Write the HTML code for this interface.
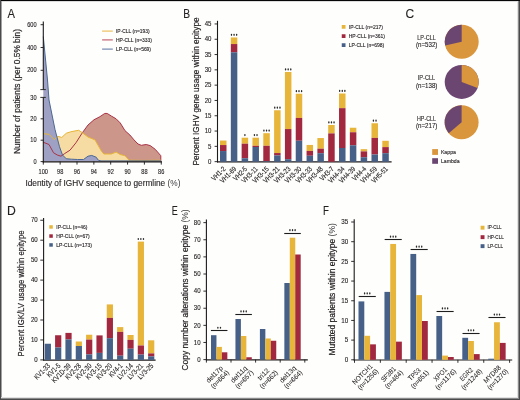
<!DOCTYPE html>
<html><head><meta charset="utf-8"><title>Figure</title>
<style>
html,body{margin:0;padding:0;background:#fff;}
body{width:520px;height:400px;overflow:hidden;}
svg{display:block;font-family:"Liberation Sans",sans-serif;will-change:transform;}
text{stroke:#231f20;stroke-width:0.12px;}
</style></head>
<body>
<svg width="520" height="400" viewBox="0 0 520 400">
<rect width="520" height="400" fill="#fefefd"/>
<g fill="#231f20">
<text x="7.6" y="18" font-size="12.2" textLength="7.47" lengthAdjust="spacingAndGlyphs">A</text>
<polygon points="43.3,142.25 49,144.5 53.5,152.75 57.25,155 61,156.2 64.75,153.5 70,150.2 76,142.7 82,133.25 88,125 94,119.75 99.9,116.7 104.75,113.45 107.2,113.45 111.25,116 116.1,118.8 120.2,122.9 125,130.7 129.9,135 134,139.9 138,144 141.3,145.3 146.2,144.5 150.2,145.6 155.1,149.2 160.8,155.7 160.8,161.1 160.8,161.6 43.3,161.6" fill="#cc968a"/>
<polygon points="43.3,133.7 49,134.3 54.25,139.7 57.7,136.25 61.75,137.45 66.25,133.25 70.75,131.75 78.7,130.25 82,132.5 88,137 95,139.9 98.25,145.6 101.5,151.3 103.9,154 111.25,154 116.1,152.1 120.2,154.5 125,155.7 129.1,160.2 145,160.4 161,160.2 161,161.6 43.3,161.6" fill="#f6dba2"/>
<polygon points="43.3,36.6 47.5,80 49,100 55,129.5 59.5,146.75 62.5,155 66.25,158.75 71.5,159.2 77.5,159.5 83.5,159.5 88,156.2 91.75,155.45 96.25,157.25 98.25,160.2 101,160.9 161,160.9 161,161.6 43.3,161.6" fill="#9ea1c3"/>
<polyline points="43.3,142.25 49,144.5 53.5,152.75 57.25,155 61,156.2 64.75,153.5 70,150.2 76,142.7 82,133.25 88,125 94,119.75 99.9,116.7 104.75,113.45 107.2,113.45 111.25,116 116.1,118.8 120.2,122.9 125,130.7 129.9,135 134,139.9 138,144 141.3,145.3 146.2,144.5 150.2,145.6 155.1,149.2 160.8,155.7 160.8,161.1" fill="none" stroke="#aa3346" stroke-width="1" stroke-linejoin="round"/>
<polyline points="43.3,133.7 49,134.3 54.25,139.7 57.7,136.25 61.75,137.45 66.25,133.25 70.75,131.75 78.7,130.25 82,132.5 88,137 95,139.9 98.25,145.6 101.5,151.3 103.9,154 111.25,154 116.1,152.1 120.2,154.5 125,155.7 129.1,160.2 145,160.4 161,160.2" fill="none" stroke="#e8b535" stroke-width="1" stroke-linejoin="round"/>
<polyline points="43.3,36.6 47.5,80 49,100 55,129.5 59.5,146.75 62.5,155 66.25,158.75 71.5,159.2 77.5,159.5 83.5,159.5 88,156.2 91.75,155.45 96.25,157.25 98.25,160.2 101,160.9 161,160.9" fill="none" stroke="#4b6894" stroke-width="1" stroke-linejoin="round"/>
<line x1="43.3" y1="21.5" x2="43.3" y2="89.6" stroke="#1c1a1b" stroke-width="1.1"/>
<line x1="43.3" y1="97.4" x2="43.3" y2="162.4" stroke="#1c1a1b" stroke-width="1.1"/>
<line x1="42.8" y1="161.85" x2="162" y2="161.85" stroke="#1c1a1b" stroke-width="1.2"/>
<line x1="40.6" y1="24.7" x2="43.3" y2="24.7" stroke="#1c1a1b" stroke-width="0.9"/>
<text x="36.6" y="26.8" font-size="6.3" text-anchor="end" textLength="9.39" lengthAdjust="spacingAndGlyphs">600</text>
<line x1="40.6" y1="47.5" x2="43.3" y2="47.5" stroke="#1c1a1b" stroke-width="0.9"/>
<text x="36.6" y="49.6" font-size="6.3" text-anchor="end" textLength="9.39" lengthAdjust="spacingAndGlyphs">400</text>
<line x1="40.6" y1="70.3" x2="43.3" y2="70.3" stroke="#1c1a1b" stroke-width="0.9"/>
<text x="36.6" y="72.4" font-size="6.3" text-anchor="end" textLength="9.39" lengthAdjust="spacingAndGlyphs">200</text>
<line x1="40.3" y1="89.6" x2="45.8" y2="89.6" stroke="#1c1a1b" stroke-width="0.9"/>
<line x1="40.3" y1="97.4" x2="45.8" y2="97.4" stroke="#1c1a1b" stroke-width="0.9"/>
<text x="36.6" y="99.5" font-size="6.3" text-anchor="end" textLength="6.26" lengthAdjust="spacingAndGlyphs">30</text>
<line x1="40.6" y1="118.8" x2="43.3" y2="118.8" stroke="#1c1a1b" stroke-width="0.9"/>
<text x="36.6" y="120.9" font-size="6.3" text-anchor="end" textLength="6.26" lengthAdjust="spacingAndGlyphs">20</text>
<line x1="40.6" y1="140.2" x2="43.3" y2="140.2" stroke="#1c1a1b" stroke-width="0.9"/>
<text x="36.6" y="142.3" font-size="6.3" text-anchor="end" textLength="6.26" lengthAdjust="spacingAndGlyphs">10</text>
<line x1="40.6" y1="161.6" x2="43.3" y2="161.6" stroke="#1c1a1b" stroke-width="0.9"/>
<text x="36.6" y="163.7" font-size="6.3" text-anchor="end" textLength="3.13" lengthAdjust="spacingAndGlyphs">0</text>
<line x1="43.3" y1="161.6" x2="43.3" y2="164.6" stroke="#1c1a1b" stroke-width="0.9"/>
<text x="43.3" y="174" font-size="6.3" text-anchor="middle" textLength="9.39" lengthAdjust="spacingAndGlyphs">100</text>
<line x1="60.15" y1="161.6" x2="60.15" y2="164.6" stroke="#1c1a1b" stroke-width="0.9"/>
<text x="60.15" y="174" font-size="6.3" text-anchor="middle" textLength="6.26" lengthAdjust="spacingAndGlyphs">98</text>
<line x1="77" y1="161.6" x2="77" y2="164.6" stroke="#1c1a1b" stroke-width="0.9"/>
<text x="77" y="174" font-size="6.3" text-anchor="middle" textLength="6.26" lengthAdjust="spacingAndGlyphs">96</text>
<line x1="93.85" y1="161.6" x2="93.85" y2="164.6" stroke="#1c1a1b" stroke-width="0.9"/>
<text x="93.85" y="174" font-size="6.3" text-anchor="middle" textLength="6.26" lengthAdjust="spacingAndGlyphs">94</text>
<line x1="110.7" y1="161.6" x2="110.7" y2="164.6" stroke="#1c1a1b" stroke-width="0.9"/>
<text x="110.7" y="174" font-size="6.3" text-anchor="middle" textLength="6.26" lengthAdjust="spacingAndGlyphs">92</text>
<line x1="127.55" y1="161.6" x2="127.55" y2="164.6" stroke="#1c1a1b" stroke-width="0.9"/>
<text x="127.55" y="174" font-size="6.3" text-anchor="middle" textLength="6.26" lengthAdjust="spacingAndGlyphs">90</text>
<line x1="144.4" y1="161.6" x2="144.4" y2="164.6" stroke="#1c1a1b" stroke-width="0.9"/>
<text x="144.4" y="174" font-size="6.3" text-anchor="middle" textLength="6.26" lengthAdjust="spacingAndGlyphs">88</text>
<line x1="161.25" y1="161.6" x2="161.25" y2="164.6" stroke="#1c1a1b" stroke-width="0.9"/>
<text x="161.25" y="174" font-size="6.3" text-anchor="middle" textLength="6.26" lengthAdjust="spacingAndGlyphs">86</text>
<text x="25.4" y="186" font-size="9" textLength="155" lengthAdjust="spacingAndGlyphs">Identity of IGHV sequence to germline <tspan fill="#3c3a3b" style="stroke:none">(%)</tspan></text>
<text x="20.3" y="154" font-size="8.8" transform="rotate(-90 20.3 154)" textLength="125" lengthAdjust="spacingAndGlyphs" style="stroke-width:0.2px">Number of patients (per 0.5% bin)</text>
<line x1="102.1" y1="31.1" x2="112.8" y2="31.1" stroke="#edc060" stroke-width="1.2"/>
<text x="116" y="32.7" font-size="4.8" textLength="33.7" lengthAdjust="spacingAndGlyphs">IP-CLL (n=193)</text>
<line x1="102.1" y1="39.9" x2="112.8" y2="39.9" stroke="#c46573" stroke-width="1.2"/>
<text x="116" y="41.5" font-size="4.8" textLength="36" lengthAdjust="spacingAndGlyphs">HP-CLL (n=333)</text>
<line x1="102.1" y1="49.1" x2="112.8" y2="49.1" stroke="#4f6c9a" stroke-width="0.95"/>
<text x="116" y="50.7" font-size="4.8" textLength="35" lengthAdjust="spacingAndGlyphs">LP-CLL (n=569)</text>
<text x="183.3" y="18" font-size="12.2" textLength="6.83" lengthAdjust="spacingAndGlyphs">B</text>
<line x1="217.5" y1="20.8" x2="217.5" y2="162.4" stroke="#1c1a1b" stroke-width="1.1"/>
<line x1="217" y1="161.9" x2="391.6" y2="161.9" stroke="#1c1a1b" stroke-width="1.2"/>
<line x1="214.6" y1="161.65" x2="217.5" y2="161.65" stroke="#1c1a1b" stroke-width="0.9"/>
<text x="211.4" y="163.85" font-size="6.6" text-anchor="end" textLength="3.39" lengthAdjust="spacingAndGlyphs">0</text>
<line x1="214.6" y1="146.35" x2="217.5" y2="146.35" stroke="#1c1a1b" stroke-width="0.9"/>
<text x="211.4" y="148.55" font-size="6.6" text-anchor="end" textLength="3.39" lengthAdjust="spacingAndGlyphs">5</text>
<line x1="214.6" y1="131.05" x2="217.5" y2="131.05" stroke="#1c1a1b" stroke-width="0.9"/>
<text x="211.4" y="133.25" font-size="6.6" text-anchor="end" textLength="6.77" lengthAdjust="spacingAndGlyphs">10</text>
<line x1="214.6" y1="115.75" x2="217.5" y2="115.75" stroke="#1c1a1b" stroke-width="0.9"/>
<text x="211.4" y="117.95" font-size="6.6" text-anchor="end" textLength="6.77" lengthAdjust="spacingAndGlyphs">15</text>
<line x1="214.6" y1="100.45" x2="217.5" y2="100.45" stroke="#1c1a1b" stroke-width="0.9"/>
<text x="211.4" y="102.65" font-size="6.6" text-anchor="end" textLength="6.77" lengthAdjust="spacingAndGlyphs">20</text>
<line x1="214.6" y1="85.15" x2="217.5" y2="85.15" stroke="#1c1a1b" stroke-width="0.9"/>
<text x="211.4" y="87.35" font-size="6.6" text-anchor="end" textLength="6.77" lengthAdjust="spacingAndGlyphs">25</text>
<line x1="214.6" y1="69.85" x2="217.5" y2="69.85" stroke="#1c1a1b" stroke-width="0.9"/>
<text x="211.4" y="72.05" font-size="6.6" text-anchor="end" textLength="6.77" lengthAdjust="spacingAndGlyphs">30</text>
<line x1="214.6" y1="54.55" x2="217.5" y2="54.55" stroke="#1c1a1b" stroke-width="0.9"/>
<text x="211.4" y="56.75" font-size="6.6" text-anchor="end" textLength="6.77" lengthAdjust="spacingAndGlyphs">35</text>
<line x1="214.6" y1="39.25" x2="217.5" y2="39.25" stroke="#1c1a1b" stroke-width="0.9"/>
<text x="211.4" y="41.45" font-size="6.6" text-anchor="end" textLength="6.77" lengthAdjust="spacingAndGlyphs">40</text>
<line x1="214.6" y1="23.95" x2="217.5" y2="23.95" stroke="#1c1a1b" stroke-width="0.9"/>
<text x="211.4" y="26.15" font-size="6.6" text-anchor="end" textLength="6.77" lengthAdjust="spacingAndGlyphs">45</text>
<text x="199.4" y="165.6" font-size="9.2" transform="rotate(-90 199.4 165.6)" textLength="148.2" lengthAdjust="spacingAndGlyphs" style="stroke-width:0.2px">Percent IGHV gene usage within epitype</text>
<rect x="220" y="140.55" width="6.5" height="4.5" fill="#e8b53b"/>
<rect x="220" y="145.05" width="6.5" height="6" fill="#a2283f"/>
<rect x="220" y="151.05" width="6.5" height="10.65" fill="#466087"/>
<text x="226.05" y="169.4" font-size="7.2" text-anchor="end" transform="rotate(-45 226.05 169.4)" textLength="16.66" lengthAdjust="spacingAndGlyphs">VH1-2</text>
<rect x="230.82" y="37.45" width="6.5" height="6.6" fill="#e8b53b"/>
<rect x="230.82" y="44.05" width="6.5" height="8.25" fill="#a2283f"/>
<rect x="230.82" y="52.3" width="6.5" height="109.4" fill="#466087"/>
<ellipse cx="231.47" cy="34.85" rx="0.72" ry="1.1" fill="#2a2a2a"/>
<ellipse cx="234.07" cy="34.85" rx="0.72" ry="1.1" fill="#2a2a2a"/>
<ellipse cx="236.67" cy="34.85" rx="0.72" ry="1.1" fill="#2a2a2a"/>
<text x="236.87" y="169.4" font-size="7.2" text-anchor="end" transform="rotate(-45 236.87 169.4)" textLength="20.02" lengthAdjust="spacingAndGlyphs">VH1-69</text>
<rect x="241.64" y="137.7" width="6.5" height="6" fill="#e8b53b"/>
<rect x="241.64" y="143.7" width="6.5" height="14.55" fill="#a2283f"/>
<rect x="241.64" y="158.25" width="6.5" height="3.45" fill="#466087"/>
<ellipse cx="244.89" cy="135.1" rx="0.72" ry="1.1" fill="#2a2a2a"/>
<text x="247.69" y="169.4" font-size="7.2" text-anchor="end" transform="rotate(-45 247.69 169.4)" textLength="16.66" lengthAdjust="spacingAndGlyphs">VH2-5</text>
<rect x="252.46" y="137.7" width="6.5" height="8.1" fill="#e8b53b"/>
<rect x="252.46" y="145.8" width="6.5" height="1.2" fill="#a2283f"/>
<rect x="252.46" y="147" width="6.5" height="14.7" fill="#466087"/>
<ellipse cx="254.41" cy="135.1" rx="0.72" ry="1.1" fill="#2a2a2a"/>
<ellipse cx="257.01" cy="135.1" rx="0.72" ry="1.1" fill="#2a2a2a"/>
<text x="258.51" y="169.4" font-size="7.2" text-anchor="end" transform="rotate(-45 258.51 169.4)" textLength="20.02" lengthAdjust="spacingAndGlyphs">VH3-11</text>
<rect x="263.28" y="133.2" width="6.5" height="12.6" fill="#e8b53b"/>
<rect x="263.28" y="145.8" width="6.5" height="15.4" fill="#a2283f"/>
<rect x="263.28" y="161.2" width="6.5" height="0.5" fill="#466087"/>
<ellipse cx="263.93" cy="130.6" rx="0.72" ry="1.1" fill="#2a2a2a"/>
<ellipse cx="266.53" cy="130.6" rx="0.72" ry="1.1" fill="#2a2a2a"/>
<ellipse cx="269.13" cy="130.6" rx="0.72" ry="1.1" fill="#2a2a2a"/>
<text x="269.33" y="169.4" font-size="7.2" text-anchor="end" transform="rotate(-45 269.33 169.4)" textLength="20.02" lengthAdjust="spacingAndGlyphs">VH3-15</text>
<rect x="274.1" y="110.25" width="6.5" height="42.8" fill="#e8b53b"/>
<rect x="274.1" y="153.05" width="6.5" height="2.4" fill="#a2283f"/>
<rect x="274.1" y="155.45" width="6.5" height="6.25" fill="#466087"/>
<ellipse cx="274.75" cy="107.65" rx="0.72" ry="1.1" fill="#2a2a2a"/>
<ellipse cx="277.35" cy="107.65" rx="0.72" ry="1.1" fill="#2a2a2a"/>
<ellipse cx="279.95" cy="107.65" rx="0.72" ry="1.1" fill="#2a2a2a"/>
<text x="280.15" y="169.4" font-size="7.2" text-anchor="end" transform="rotate(-45 280.15 169.4)" textLength="20.02" lengthAdjust="spacingAndGlyphs">VH3-21</text>
<rect x="284.92" y="72" width="6.5" height="57.05" fill="#e8b53b"/>
<rect x="284.92" y="129.05" width="6.5" height="30.15" fill="#a2283f"/>
<rect x="284.92" y="159.2" width="6.5" height="2.5" fill="#466087"/>
<ellipse cx="285.57" cy="69.4" rx="0.72" ry="1.1" fill="#2a2a2a"/>
<ellipse cx="288.17" cy="69.4" rx="0.72" ry="1.1" fill="#2a2a2a"/>
<ellipse cx="290.77" cy="69.4" rx="0.72" ry="1.1" fill="#2a2a2a"/>
<text x="290.97" y="169.4" font-size="7.2" text-anchor="end" transform="rotate(-45 290.97 169.4)" textLength="20.02" lengthAdjust="spacingAndGlyphs">VH3-23</text>
<rect x="295.74" y="93.75" width="6.5" height="24.2" fill="#e8b53b"/>
<rect x="295.74" y="117.95" width="6.5" height="22.8" fill="#a2283f"/>
<rect x="295.74" y="140.75" width="6.5" height="20.95" fill="#466087"/>
<ellipse cx="296.39" cy="91.15" rx="0.72" ry="1.1" fill="#2a2a2a"/>
<ellipse cx="298.99" cy="91.15" rx="0.72" ry="1.1" fill="#2a2a2a"/>
<ellipse cx="301.59" cy="91.15" rx="0.72" ry="1.1" fill="#2a2a2a"/>
<text x="301.79" y="169.4" font-size="7.2" text-anchor="end" transform="rotate(-45 301.79 169.4)" textLength="20.02" lengthAdjust="spacingAndGlyphs">VH3-30</text>
<rect x="306.56" y="144.95" width="6.5" height="6" fill="#e8b53b"/>
<rect x="306.56" y="150.95" width="6.5" height="4.8" fill="#a2283f"/>
<rect x="306.56" y="155.75" width="6.5" height="5.95" fill="#466087"/>
<text x="312.61" y="169.4" font-size="7.2" text-anchor="end" transform="rotate(-45 312.61 169.4)" textLength="20.02" lengthAdjust="spacingAndGlyphs">VH3-33</text>
<rect x="317.38" y="138.05" width="6.5" height="10.65" fill="#e8b53b"/>
<rect x="317.38" y="148.7" width="6.5" height="4.5" fill="#a2283f"/>
<rect x="317.38" y="153.2" width="6.5" height="8.5" fill="#466087"/>
<text x="323.43" y="169.4" font-size="7.2" text-anchor="end" transform="rotate(-45 323.43 169.4)" textLength="20.02" lengthAdjust="spacingAndGlyphs">VH3-48</text>
<rect x="328.2" y="125" width="6.5" height="8.4" fill="#e8b53b"/>
<rect x="328.2" y="133.4" width="6.5" height="28.3" fill="#a2283f"/>
<ellipse cx="328.85" cy="122.4" rx="0.72" ry="1.1" fill="#2a2a2a"/>
<ellipse cx="331.45" cy="122.4" rx="0.72" ry="1.1" fill="#2a2a2a"/>
<ellipse cx="334.05" cy="122.4" rx="0.72" ry="1.1" fill="#2a2a2a"/>
<text x="334.25" y="169.4" font-size="7.2" text-anchor="end" transform="rotate(-45 334.25 169.4)" textLength="16.66" lengthAdjust="spacingAndGlyphs">VH3-7</text>
<rect x="339.02" y="93.5" width="6.5" height="14.65" fill="#e8b53b"/>
<rect x="339.02" y="108.15" width="6.5" height="39.85" fill="#a2283f"/>
<rect x="339.02" y="148" width="6.5" height="13.7" fill="#466087"/>
<ellipse cx="339.67" cy="90.9" rx="0.72" ry="1.1" fill="#2a2a2a"/>
<ellipse cx="342.27" cy="90.9" rx="0.72" ry="1.1" fill="#2a2a2a"/>
<ellipse cx="344.87" cy="90.9" rx="0.72" ry="1.1" fill="#2a2a2a"/>
<text x="345.07" y="169.4" font-size="7.2" text-anchor="end" transform="rotate(-45 345.07 169.4)" textLength="20.02" lengthAdjust="spacingAndGlyphs">VH4-34</text>
<rect x="349.84" y="127.75" width="6.5" height="4.5" fill="#e8b53b"/>
<rect x="349.84" y="132.25" width="6.5" height="13.05" fill="#a2283f"/>
<rect x="349.84" y="145.3" width="6.5" height="16.4" fill="#466087"/>
<text x="355.89" y="169.4" font-size="7.2" text-anchor="end" transform="rotate(-45 355.89 169.4)" textLength="20.02" lengthAdjust="spacingAndGlyphs">VH4-39</text>
<rect x="360.66" y="149.15" width="6.5" height="2.25" fill="#e8b53b"/>
<rect x="360.66" y="151.4" width="6.5" height="5.85" fill="#a2283f"/>
<rect x="360.66" y="157.25" width="6.5" height="4.45" fill="#466087"/>
<text x="366.71" y="169.4" font-size="7.2" text-anchor="end" transform="rotate(-45 366.71 169.4)" textLength="16.66" lengthAdjust="spacingAndGlyphs">VH4-4</text>
<rect x="371.48" y="123.25" width="6.5" height="14.65" fill="#e8b53b"/>
<rect x="371.48" y="137.9" width="6.5" height="16.6" fill="#a2283f"/>
<rect x="371.48" y="154.5" width="6.5" height="7.2" fill="#466087"/>
<ellipse cx="373.43" cy="120.65" rx="0.72" ry="1.1" fill="#2a2a2a"/>
<ellipse cx="376.03" cy="120.65" rx="0.72" ry="1.1" fill="#2a2a2a"/>
<text x="377.53" y="169.4" font-size="7.2" text-anchor="end" transform="rotate(-45 377.53 169.4)" textLength="20.02" lengthAdjust="spacingAndGlyphs">VH4-59</text>
<rect x="382.3" y="140.8" width="6.5" height="6.3" fill="#e8b53b"/>
<rect x="382.3" y="147.1" width="6.5" height="6.1" fill="#a2283f"/>
<rect x="382.3" y="153.2" width="6.5" height="8.5" fill="#466087"/>
<text x="388.35" y="169.4" font-size="7.2" text-anchor="end" transform="rotate(-45 388.35 169.4)" textLength="20.02" lengthAdjust="spacingAndGlyphs">VH5-51</text>
<rect x="341.75" y="25" width="3.75" height="3.75" fill="#e8b53b"/>
<text x="348.75" y="28.6" font-size="5" textLength="34.2" lengthAdjust="spacingAndGlyphs">IP-CLL (n=217)</text>
<rect x="341.75" y="34.25" width="3.75" height="3.75" fill="#a2283f"/>
<text x="348.75" y="37.85" font-size="5" textLength="36.2" lengthAdjust="spacingAndGlyphs">HP-CLL (n=361)</text>
<rect x="341.75" y="43.25" width="3.75" height="3.75" fill="#466087"/>
<text x="348.75" y="46.85" font-size="5" textLength="35.4" lengthAdjust="spacingAndGlyphs">LP-CLL (n=698)</text>
<text x="405.6" y="18" font-size="12">C</text>
<circle cx="461.7" cy="41.8" r="17" fill="#d9963c"/>
<path d="M461.7,41.8 L445.14,45.62 A17,17 0 0 1 461.7,24.8 Z" fill="#6b4671"/>
<circle cx="461.7" cy="81.9" r="17" fill="#6b4671"/>
<path d="M461.7,81.9 L461.7,64.9 A17,17 0 0 1 477.59,87.94 Z" fill="#d9963c"/>
<circle cx="461.6" cy="122.2" r="17" fill="#d9963c"/>
<path d="M461.6,122.2 L448.71,133.29 A17,17 0 0 1 461.6,105.2 Z" fill="#6b4671"/>
<text x="426.5" y="40.2" font-size="7" text-anchor="middle" textLength="18.5" lengthAdjust="spacingAndGlyphs">LP-CLL</text>
<text x="426.7" y="47.4" font-size="7" text-anchor="middle" textLength="21.5" lengthAdjust="spacingAndGlyphs">(n=532)</text>
<text x="426.5" y="80.3" font-size="7" text-anchor="middle" textLength="17.5" lengthAdjust="spacingAndGlyphs">IP-CLL</text>
<text x="426.7" y="87.5" font-size="7" text-anchor="middle" textLength="21.5" lengthAdjust="spacingAndGlyphs">(n=138)</text>
<text x="426.5" y="120.6" font-size="7" text-anchor="middle" textLength="19" lengthAdjust="spacingAndGlyphs">HP-CLL</text>
<text x="426.7" y="127.8" font-size="7" text-anchor="middle" textLength="21.5" lengthAdjust="spacingAndGlyphs">(n=217)</text>
<rect x="432.2" y="149.1" width="5.8" height="5.8" fill="#d9963c"/>
<rect x="432.2" y="158.2" width="5.8" height="5.6" fill="#6b4671"/>
<text x="440.9" y="154" font-size="5.6" textLength="15.1" lengthAdjust="spacingAndGlyphs">Kappa</text>
<text x="440.9" y="163.1" font-size="5.6" textLength="18.7" lengthAdjust="spacingAndGlyphs">Lambda</text>
<text x="7" y="215" font-size="12.2">D</text>
<line x1="43.6" y1="218" x2="43.6" y2="360.6" stroke="#1c1a1b" stroke-width="1.1"/>
<line x1="43.1" y1="360.1" x2="155.6" y2="360.1" stroke="#1c1a1b" stroke-width="1.2"/>
<line x1="40.3" y1="359.9" x2="43.6" y2="359.9" stroke="#1c1a1b" stroke-width="0.9"/>
<text x="37.7" y="362.1" font-size="6.6" text-anchor="end" textLength="3.39" lengthAdjust="spacingAndGlyphs">0</text>
<line x1="40.3" y1="339.95" x2="43.6" y2="339.95" stroke="#1c1a1b" stroke-width="0.9"/>
<text x="37.7" y="342.15" font-size="6.6" text-anchor="end" textLength="6.77" lengthAdjust="spacingAndGlyphs">10</text>
<line x1="40.3" y1="320" x2="43.6" y2="320" stroke="#1c1a1b" stroke-width="0.9"/>
<text x="37.7" y="322.2" font-size="6.6" text-anchor="end" textLength="6.77" lengthAdjust="spacingAndGlyphs">20</text>
<line x1="40.3" y1="300.05" x2="43.6" y2="300.05" stroke="#1c1a1b" stroke-width="0.9"/>
<text x="37.7" y="302.25" font-size="6.6" text-anchor="end" textLength="6.77" lengthAdjust="spacingAndGlyphs">30</text>
<line x1="40.3" y1="280.1" x2="43.6" y2="280.1" stroke="#1c1a1b" stroke-width="0.9"/>
<text x="37.7" y="282.3" font-size="6.6" text-anchor="end" textLength="6.77" lengthAdjust="spacingAndGlyphs">40</text>
<line x1="40.3" y1="260.15" x2="43.6" y2="260.15" stroke="#1c1a1b" stroke-width="0.9"/>
<text x="37.7" y="262.35" font-size="6.6" text-anchor="end" textLength="6.77" lengthAdjust="spacingAndGlyphs">50</text>
<line x1="40.3" y1="240.2" x2="43.6" y2="240.2" stroke="#1c1a1b" stroke-width="0.9"/>
<text x="37.7" y="242.4" font-size="6.6" text-anchor="end" textLength="6.77" lengthAdjust="spacingAndGlyphs">60</text>
<line x1="40.3" y1="220.25" x2="43.6" y2="220.25" stroke="#1c1a1b" stroke-width="0.9"/>
<text x="37.7" y="222.45" font-size="6.6" text-anchor="end" textLength="6.77" lengthAdjust="spacingAndGlyphs">70</text>
<text x="24.4" y="356.4" font-size="8.5" transform="rotate(-90 24.4 356.4)" textLength="126" lengthAdjust="spacingAndGlyphs" style="stroke-width:0.2px">Percent IGK/LV usage within epitype</text>
<rect x="44.75" y="343.75" width="6.2" height="16.15" fill="#466087"/>
<text x="50.65" y="366.3" font-size="7.3" text-anchor="end" transform="rotate(-45 50.65 366.3)" textLength="19.44" lengthAdjust="spacingAndGlyphs">KV1-33</text>
<rect x="55.09" y="335.25" width="6.2" height="12.25" fill="#a2283f"/>
<rect x="55.09" y="347.5" width="6.2" height="12.4" fill="#466087"/>
<text x="60.98" y="366.3" font-size="7.3" text-anchor="end" transform="rotate(-45 60.98 366.3)" textLength="16.06" lengthAdjust="spacingAndGlyphs">KV1-5</text>
<rect x="65.42" y="332.9" width="6.2" height="6.5" fill="#a2283f"/>
<rect x="65.42" y="339.4" width="6.2" height="20.5" fill="#466087"/>
<text x="71.32" y="366.3" font-size="7.3" text-anchor="end" transform="rotate(-45 71.32 366.3)" textLength="23.84" lengthAdjust="spacingAndGlyphs">KV1D-39</text>
<rect x="75.75" y="341.5" width="6.2" height="4.5" fill="#e8b53b"/>
<rect x="75.75" y="346" width="6.2" height="13.9" fill="#466087"/>
<text x="81.65" y="366.3" font-size="7.3" text-anchor="end" transform="rotate(-45 81.65 366.3)" textLength="19.44" lengthAdjust="spacingAndGlyphs">KV2-28</text>
<rect x="86.09" y="334.75" width="6.2" height="4.85" fill="#e8b53b"/>
<rect x="86.09" y="339.6" width="6.2" height="14.8" fill="#a2283f"/>
<rect x="86.09" y="354.4" width="6.2" height="5.5" fill="#466087"/>
<text x="91.99" y="366.3" font-size="7.3" text-anchor="end" transform="rotate(-45 91.99 366.3)" textLength="19.44" lengthAdjust="spacingAndGlyphs">KV2-30</text>
<rect x="96.43" y="335.4" width="6.2" height="17.5" fill="#a2283f"/>
<rect x="96.43" y="352.9" width="6.2" height="7" fill="#466087"/>
<text x="102.33" y="366.3" font-size="7.3" text-anchor="end" transform="rotate(-45 102.33 366.3)" textLength="19.44" lengthAdjust="spacingAndGlyphs">KV3-15</text>
<rect x="106.76" y="304.4" width="6.2" height="13.5" fill="#e8b53b"/>
<rect x="106.76" y="317.9" width="6.2" height="20.3" fill="#a2283f"/>
<rect x="106.76" y="338.2" width="6.2" height="21.7" fill="#466087"/>
<text x="112.66" y="366.3" font-size="7.3" text-anchor="end" transform="rotate(-45 112.66 366.3)" textLength="19.44" lengthAdjust="spacingAndGlyphs">KV3-20</text>
<rect x="117.09" y="327.1" width="6.2" height="4.8" fill="#e8b53b"/>
<rect x="117.09" y="331.9" width="6.2" height="23.8" fill="#a2283f"/>
<rect x="117.09" y="355.7" width="6.2" height="4.2" fill="#466087"/>
<text x="122.99" y="366.3" font-size="7.3" text-anchor="end" transform="rotate(-45 122.99 366.3)" textLength="16.06" lengthAdjust="spacingAndGlyphs">KV4-1</text>
<rect x="127.43" y="335" width="6.2" height="4.9" fill="#e8b53b"/>
<rect x="127.43" y="339.9" width="6.2" height="8.8" fill="#a2283f"/>
<rect x="127.43" y="348.7" width="6.2" height="11.2" fill="#466087"/>
<text x="133.33" y="366.3" font-size="7.3" text-anchor="end" transform="rotate(-45 133.33 366.3)" textLength="18.98" lengthAdjust="spacingAndGlyphs">LV2-14</text>
<rect x="137.77" y="241.6" width="6.2" height="103.9" fill="#e8b53b"/>
<rect x="137.77" y="345.5" width="6.2" height="9.1" fill="#a2283f"/>
<rect x="137.77" y="354.6" width="6.2" height="5.3" fill="#466087"/>
<ellipse cx="138.27" cy="239" rx="0.72" ry="1.1" fill="#2a2a2a"/>
<ellipse cx="140.87" cy="239" rx="0.72" ry="1.1" fill="#2a2a2a"/>
<ellipse cx="143.47" cy="239" rx="0.72" ry="1.1" fill="#2a2a2a"/>
<text x="143.67" y="366.3" font-size="7.3" text-anchor="end" transform="rotate(-45 143.67 366.3)" textLength="18.98" lengthAdjust="spacingAndGlyphs">LV3-21</text>
<rect x="148.1" y="340.3" width="6.2" height="13.1" fill="#e8b53b"/>
<rect x="148.1" y="353.4" width="6.2" height="3" fill="#a2283f"/>
<rect x="148.1" y="356.4" width="6.2" height="3.5" fill="#466087"/>
<text x="154" y="366.3" font-size="7.3" text-anchor="end" transform="rotate(-45 154 366.3)" textLength="18.98" lengthAdjust="spacingAndGlyphs">LV3-25</text>
<rect x="49.3" y="225.2" width="3.5" height="3.5" fill="#e8b53b"/>
<text x="56.3" y="228.6" font-size="4.8" textLength="31" lengthAdjust="spacingAndGlyphs">IP-CLL (n=46)</text>
<rect x="49.3" y="234.3" width="3.5" height="3.5" fill="#a2283f"/>
<text x="56.3" y="237.7" font-size="4.8" textLength="33.4" lengthAdjust="spacingAndGlyphs">HP-CLL (n=67)</text>
<rect x="49.3" y="243.2" width="3.5" height="3.5" fill="#466087"/>
<text x="56.3" y="246.6" font-size="4.8" textLength="35.7" lengthAdjust="spacingAndGlyphs">LP-CLL (n=173)</text>
<text x="171.7" y="215" font-size="12.2" textLength="6" lengthAdjust="spacingAndGlyphs">E</text>
<line x1="206.4" y1="219.5" x2="206.4" y2="360.3" stroke="#1c1a1b" stroke-width="1.1"/>
<line x1="205.9" y1="359.8" x2="307.8" y2="359.8" stroke="#1c1a1b" stroke-width="1.2"/>
<line x1="203.4" y1="359.6" x2="206.4" y2="359.6" stroke="#1c1a1b" stroke-width="0.9"/>
<text x="200.6" y="361.8" font-size="6.6" text-anchor="end" textLength="3.39" lengthAdjust="spacingAndGlyphs">0</text>
<line x1="203.4" y1="342.48" x2="206.4" y2="342.48" stroke="#1c1a1b" stroke-width="0.9"/>
<text x="200.6" y="344.68" font-size="6.6" text-anchor="end" textLength="6.77" lengthAdjust="spacingAndGlyphs">10</text>
<line x1="203.4" y1="325.36" x2="206.4" y2="325.36" stroke="#1c1a1b" stroke-width="0.9"/>
<text x="200.6" y="327.56" font-size="6.6" text-anchor="end" textLength="6.77" lengthAdjust="spacingAndGlyphs">20</text>
<line x1="203.4" y1="308.24" x2="206.4" y2="308.24" stroke="#1c1a1b" stroke-width="0.9"/>
<text x="200.6" y="310.44" font-size="6.6" text-anchor="end" textLength="6.77" lengthAdjust="spacingAndGlyphs">30</text>
<line x1="203.4" y1="291.12" x2="206.4" y2="291.12" stroke="#1c1a1b" stroke-width="0.9"/>
<text x="200.6" y="293.32" font-size="6.6" text-anchor="end" textLength="6.77" lengthAdjust="spacingAndGlyphs">40</text>
<line x1="203.4" y1="274" x2="206.4" y2="274" stroke="#1c1a1b" stroke-width="0.9"/>
<text x="200.6" y="276.2" font-size="6.6" text-anchor="end" textLength="6.77" lengthAdjust="spacingAndGlyphs">50</text>
<line x1="203.4" y1="256.88" x2="206.4" y2="256.88" stroke="#1c1a1b" stroke-width="0.9"/>
<text x="200.6" y="259.08" font-size="6.6" text-anchor="end" textLength="6.77" lengthAdjust="spacingAndGlyphs">60</text>
<line x1="203.4" y1="239.76" x2="206.4" y2="239.76" stroke="#1c1a1b" stroke-width="0.9"/>
<text x="200.6" y="241.96" font-size="6.6" text-anchor="end" textLength="6.77" lengthAdjust="spacingAndGlyphs">70</text>
<line x1="203.4" y1="222.64" x2="206.4" y2="222.64" stroke="#1c1a1b" stroke-width="0.9"/>
<text x="200.6" y="224.84" font-size="6.6" text-anchor="end" textLength="6.77" lengthAdjust="spacingAndGlyphs">80</text>
<line x1="231" y1="359.6" x2="231" y2="362.6" stroke="#1c1a1b" stroke-width="0.9"/>
<line x1="255.6" y1="359.6" x2="255.6" y2="362.6" stroke="#1c1a1b" stroke-width="0.9"/>
<line x1="280.2" y1="359.6" x2="280.2" y2="362.6" stroke="#1c1a1b" stroke-width="0.9"/>
<line x1="304.8" y1="359.6" x2="304.8" y2="362.6" stroke="#1c1a1b" stroke-width="0.9"/>
<line x1="206.4" y1="359.6" x2="206.4" y2="362.6" stroke="#1c1a1b" stroke-width="0.9"/>
<text x="187.8" y="370.6" font-size="8.8" transform="rotate(-90 187.8 370.6)" textLength="161.3" lengthAdjust="spacingAndGlyphs" style="stroke-width:0.2px">Copy number alterations within epitype <tspan fill="#3c3a3b" style="stroke:none">(%)</tspan></text>
<rect x="211" y="335.2" width="5.45" height="24.4" fill="#466087"/>
<rect x="216.45" y="346.9" width="5.45" height="12.7" fill="#e8b53b"/>
<rect x="221.9" y="352.3" width="5.45" height="7.3" fill="#a2283f"/>
<line x1="210.9" y1="330.5" x2="227.45" y2="330.5" stroke="#1e1e1e" stroke-width="1.1"/>
<ellipse cx="217.88" cy="327.75" rx="0.72" ry="1.1" fill="#2a2a2a"/>
<ellipse cx="220.47" cy="327.75" rx="0.72" ry="1.1" fill="#2a2a2a"/>
<text x="216.08" y="375.9" font-size="6.9" text-anchor="middle" transform="rotate(-45 216.08 375.9)" textLength="20.56" lengthAdjust="spacingAndGlyphs" style="stroke-width:0.05px">del17p</text>
<text x="221.48" y="381" font-size="6.9" text-anchor="middle" transform="rotate(-45 221.48 381)" textLength="22.64" lengthAdjust="spacingAndGlyphs" style="stroke-width:0.05px">(n=664)</text>
<rect x="235.45" y="319" width="5.45" height="40.6" fill="#466087"/>
<rect x="240.9" y="336" width="5.45" height="23.6" fill="#e8b53b"/>
<rect x="246.35" y="357.25" width="5.45" height="2.35" fill="#a2283f"/>
<line x1="235.35" y1="314.5" x2="251.9" y2="314.5" stroke="#1e1e1e" stroke-width="1.1"/>
<ellipse cx="241.03" cy="311.4" rx="0.72" ry="1.1" fill="#2a2a2a"/>
<ellipse cx="243.62" cy="311.4" rx="0.72" ry="1.1" fill="#2a2a2a"/>
<ellipse cx="246.22" cy="311.4" rx="0.72" ry="1.1" fill="#2a2a2a"/>
<text x="240.53" y="375.9" font-size="6.9" text-anchor="middle" transform="rotate(-45 240.53 375.9)" textLength="20.52" lengthAdjust="spacingAndGlyphs" style="stroke-width:0.05px">del11q</text>
<text x="245.93" y="381" font-size="6.9" text-anchor="middle" transform="rotate(-45 245.93 381)" textLength="22.64" lengthAdjust="spacingAndGlyphs" style="stroke-width:0.05px">(n=657)</text>
<rect x="259.9" y="329" width="5.45" height="30.6" fill="#466087"/>
<rect x="265.35" y="338.5" width="5.45" height="21.1" fill="#e8b53b"/>
<rect x="270.8" y="340.75" width="5.45" height="18.85" fill="#a2283f"/>
<text x="264.97" y="375.9" font-size="6.9" text-anchor="middle" transform="rotate(-45 264.97 375.9)" textLength="13.62" lengthAdjust="spacingAndGlyphs" style="stroke-width:0.05px">tri12</text>
<text x="270.38" y="381" font-size="6.9" text-anchor="middle" transform="rotate(-45 270.38 381)" textLength="22.64" lengthAdjust="spacingAndGlyphs" style="stroke-width:0.05px">(n=662)</text>
<rect x="284.35" y="283" width="5.45" height="76.6" fill="#466087"/>
<rect x="289.8" y="237.7" width="5.45" height="121.9" fill="#e8b53b"/>
<rect x="295.25" y="254.5" width="5.45" height="105.1" fill="#a2283f"/>
<line x1="284.25" y1="233.5" x2="300.8" y2="233.5" stroke="#1e1e1e" stroke-width="1.1"/>
<ellipse cx="289.93" cy="230.2" rx="0.72" ry="1.1" fill="#2a2a2a"/>
<ellipse cx="292.53" cy="230.2" rx="0.72" ry="1.1" fill="#2a2a2a"/>
<ellipse cx="295.12" cy="230.2" rx="0.72" ry="1.1" fill="#2a2a2a"/>
<text x="289.43" y="375.9" font-size="6.9" text-anchor="middle" transform="rotate(-45 289.43 375.9)" textLength="20.52" lengthAdjust="spacingAndGlyphs" style="stroke-width:0.05px">del13q</text>
<text x="294.83" y="381" font-size="6.9" text-anchor="middle" transform="rotate(-45 294.83 381)" textLength="22.64" lengthAdjust="spacingAndGlyphs" style="stroke-width:0.05px">(n=664)</text>
<text x="323.1" y="215" font-size="12.2" textLength="5.94" lengthAdjust="spacingAndGlyphs">F</text>
<line x1="354.2" y1="219.2" x2="354.2" y2="360.5" stroke="#1c1a1b" stroke-width="1.1"/>
<line x1="353.7" y1="360" x2="512.2" y2="360" stroke="#1c1a1b" stroke-width="1.2"/>
<line x1="351.2" y1="359.8" x2="354.2" y2="359.8" stroke="#1c1a1b" stroke-width="0.9"/>
<text x="348.3" y="362" font-size="6.8" text-anchor="end" textLength="3.49" lengthAdjust="spacingAndGlyphs">0</text>
<line x1="351.2" y1="340.12" x2="354.2" y2="340.12" stroke="#1c1a1b" stroke-width="0.9"/>
<text x="348.3" y="342.31" font-size="6.8" text-anchor="end" textLength="3.49" lengthAdjust="spacingAndGlyphs">5</text>
<line x1="351.2" y1="320.43" x2="354.2" y2="320.43" stroke="#1c1a1b" stroke-width="0.9"/>
<text x="348.3" y="322.63" font-size="6.8" text-anchor="end" textLength="6.98" lengthAdjust="spacingAndGlyphs">10</text>
<line x1="351.2" y1="300.75" x2="354.2" y2="300.75" stroke="#1c1a1b" stroke-width="0.9"/>
<text x="348.3" y="302.94" font-size="6.8" text-anchor="end" textLength="6.98" lengthAdjust="spacingAndGlyphs">15</text>
<line x1="351.2" y1="281.06" x2="354.2" y2="281.06" stroke="#1c1a1b" stroke-width="0.9"/>
<text x="348.3" y="283.26" font-size="6.8" text-anchor="end" textLength="6.98" lengthAdjust="spacingAndGlyphs">20</text>
<line x1="351.2" y1="261.38" x2="354.2" y2="261.38" stroke="#1c1a1b" stroke-width="0.9"/>
<text x="348.3" y="263.57" font-size="6.8" text-anchor="end" textLength="6.98" lengthAdjust="spacingAndGlyphs">25</text>
<line x1="351.2" y1="241.69" x2="354.2" y2="241.69" stroke="#1c1a1b" stroke-width="0.9"/>
<text x="348.3" y="243.89" font-size="6.8" text-anchor="end" textLength="6.98" lengthAdjust="spacingAndGlyphs">30</text>
<line x1="351.2" y1="222.01" x2="354.2" y2="222.01" stroke="#1c1a1b" stroke-width="0.9"/>
<text x="348.3" y="224.21" font-size="6.8" text-anchor="end" textLength="6.98" lengthAdjust="spacingAndGlyphs">35</text>
<line x1="354.5" y1="359.8" x2="354.5" y2="362.8" stroke="#1c1a1b" stroke-width="0.9"/>
<line x1="380.35" y1="359.8" x2="380.35" y2="362.8" stroke="#1c1a1b" stroke-width="0.9"/>
<line x1="406.2" y1="359.8" x2="406.2" y2="362.8" stroke="#1c1a1b" stroke-width="0.9"/>
<line x1="432.05" y1="359.8" x2="432.05" y2="362.8" stroke="#1c1a1b" stroke-width="0.9"/>
<line x1="457.9" y1="359.8" x2="457.9" y2="362.8" stroke="#1c1a1b" stroke-width="0.9"/>
<line x1="483.75" y1="359.8" x2="483.75" y2="362.8" stroke="#1c1a1b" stroke-width="0.9"/>
<line x1="509.6" y1="359.8" x2="509.6" y2="362.8" stroke="#1c1a1b" stroke-width="0.9"/>
<text x="335.4" y="355.5" font-size="8.5" transform="rotate(-90 335.4 355.5)" textLength="132.3" lengthAdjust="spacingAndGlyphs" style="stroke-width:0.2px">Mutated patients within epitype <tspan fill="#3c3a3b" style="stroke:none">(%)</tspan></text>
<rect x="358.5" y="301.4" width="5.8" height="58.4" fill="#466087"/>
<rect x="364.3" y="335.8" width="5.8" height="24" fill="#e8b53b"/>
<rect x="370.1" y="344.35" width="5.8" height="15.45" fill="#a2283f"/>
<line x1="358.7" y1="296.5" x2="375.8" y2="296.5" stroke="#1e1e1e" stroke-width="1.1"/>
<ellipse cx="364.6" cy="293.4" rx="0.72" ry="1.1" fill="#2a2a2a"/>
<ellipse cx="367.2" cy="293.4" rx="0.72" ry="1.1" fill="#2a2a2a"/>
<ellipse cx="369.8" cy="293.4" rx="0.72" ry="1.1" fill="#2a2a2a"/>
<text x="364.1" y="375.9" font-size="6.9" text-anchor="middle" transform="rotate(-45 364.1 375.9)" textLength="25.48" lengthAdjust="spacingAndGlyphs" style="stroke-width:0.05px">NOTCH1</text>
<text x="369.5" y="381" font-size="6.9" text-anchor="middle" transform="rotate(-45 369.5 381)" textLength="26.21" lengthAdjust="spacingAndGlyphs" style="stroke-width:0.05px">(n=1256)</text>
<rect x="384.45" y="291.9" width="5.8" height="67.9" fill="#466087"/>
<rect x="390.25" y="243.95" width="5.8" height="115.85" fill="#e8b53b"/>
<rect x="396.05" y="341.65" width="5.8" height="18.15" fill="#a2283f"/>
<line x1="384.65" y1="239.5" x2="401.75" y2="239.5" stroke="#1e1e1e" stroke-width="1.1"/>
<ellipse cx="390.55" cy="236.65" rx="0.72" ry="1.1" fill="#2a2a2a"/>
<ellipse cx="393.15" cy="236.65" rx="0.72" ry="1.1" fill="#2a2a2a"/>
<ellipse cx="395.75" cy="236.65" rx="0.72" ry="1.1" fill="#2a2a2a"/>
<text x="390.05" y="375.9" font-size="6.9" text-anchor="middle" transform="rotate(-45 390.05 375.9)" textLength="18.09" lengthAdjust="spacingAndGlyphs" style="stroke-width:0.05px">SF3B1</text>
<text x="395.45" y="381" font-size="6.9" text-anchor="middle" transform="rotate(-45 395.45 381)" textLength="22.64" lengthAdjust="spacingAndGlyphs" style="stroke-width:0.05px">(n=484)</text>
<rect x="410.4" y="253.95" width="5.8" height="105.85" fill="#466087"/>
<rect x="416.2" y="295.1" width="5.8" height="64.7" fill="#e8b53b"/>
<rect x="422" y="321" width="5.8" height="38.8" fill="#a2283f"/>
<line x1="410.6" y1="249.5" x2="427.7" y2="249.5" stroke="#1e1e1e" stroke-width="1.1"/>
<ellipse cx="416.5" cy="246.65" rx="0.72" ry="1.1" fill="#2a2a2a"/>
<ellipse cx="419.1" cy="246.65" rx="0.72" ry="1.1" fill="#2a2a2a"/>
<ellipse cx="421.7" cy="246.65" rx="0.72" ry="1.1" fill="#2a2a2a"/>
<text x="416" y="375.9" font-size="6.9" text-anchor="middle" transform="rotate(-45 416 375.9)" textLength="14.59" lengthAdjust="spacingAndGlyphs" style="stroke-width:0.05px">TP53</text>
<text x="421.4" y="381" font-size="6.9" text-anchor="middle" transform="rotate(-45 421.4 381)" textLength="22.64" lengthAdjust="spacingAndGlyphs" style="stroke-width:0.05px">(n=651)</text>
<rect x="436.35" y="316" width="5.8" height="43.8" fill="#466087"/>
<rect x="442.15" y="355.6" width="5.8" height="4.2" fill="#e8b53b"/>
<rect x="447.95" y="357" width="5.8" height="2.8" fill="#a2283f"/>
<line x1="436.55" y1="311.5" x2="453.65" y2="311.5" stroke="#1e1e1e" stroke-width="1.1"/>
<ellipse cx="442.45" cy="308.4" rx="0.72" ry="1.1" fill="#2a2a2a"/>
<ellipse cx="445.05" cy="308.4" rx="0.72" ry="1.1" fill="#2a2a2a"/>
<ellipse cx="447.65" cy="308.4" rx="0.72" ry="1.1" fill="#2a2a2a"/>
<text x="441.95" y="375.9" font-size="6.9" text-anchor="middle" transform="rotate(-45 441.95 375.9)" textLength="16.37" lengthAdjust="spacingAndGlyphs" style="stroke-width:0.05px">XPO1</text>
<text x="447.35" y="381" font-size="6.9" text-anchor="middle" transform="rotate(-45 447.35 381)" textLength="26.21" lengthAdjust="spacingAndGlyphs" style="stroke-width:0.05px">(n=1176)</text>
<rect x="462.3" y="337.8" width="5.8" height="22" fill="#466087"/>
<rect x="468.1" y="341" width="5.8" height="18.8" fill="#e8b53b"/>
<rect x="473.9" y="354.1" width="5.8" height="5.7" fill="#a2283f"/>
<line x1="462.5" y1="333.5" x2="479.6" y2="333.5" stroke="#1e1e1e" stroke-width="1.1"/>
<ellipse cx="468.4" cy="330.3" rx="0.72" ry="1.1" fill="#2a2a2a"/>
<ellipse cx="471" cy="330.3" rx="0.72" ry="1.1" fill="#2a2a2a"/>
<ellipse cx="473.6" cy="330.3" rx="0.72" ry="1.1" fill="#2a2a2a"/>
<text x="467.9" y="375.9" font-size="6.9" text-anchor="middle" transform="rotate(-45 467.9 375.9)" textLength="15.54" lengthAdjust="spacingAndGlyphs" style="stroke-width:0.05px">EGR2</text>
<text x="473.3" y="381" font-size="6.9" text-anchor="middle" transform="rotate(-45 473.3 381)" textLength="26.21" lengthAdjust="spacingAndGlyphs" style="stroke-width:0.05px">(n=1248)</text>
<rect x="488.25" y="358.7" width="5.8" height="1.1" fill="#466087"/>
<rect x="494.05" y="322.25" width="5.8" height="37.55" fill="#e8b53b"/>
<rect x="499.85" y="342.9" width="5.8" height="16.9" fill="#a2283f"/>
<line x1="488.45" y1="317.5" x2="505.55" y2="317.5" stroke="#1e1e1e" stroke-width="1.1"/>
<ellipse cx="494.35" cy="314.6" rx="0.72" ry="1.1" fill="#2a2a2a"/>
<ellipse cx="496.95" cy="314.6" rx="0.72" ry="1.1" fill="#2a2a2a"/>
<ellipse cx="499.55" cy="314.6" rx="0.72" ry="1.1" fill="#2a2a2a"/>
<text x="493.85" y="375.9" font-size="6.9" text-anchor="middle" transform="rotate(-45 493.85 375.9)" textLength="21.56" lengthAdjust="spacingAndGlyphs" style="stroke-width:0.05px">MYD88</text>
<text x="499.25" y="381" font-size="6.9" text-anchor="middle" transform="rotate(-45 499.25 381)" textLength="26.21" lengthAdjust="spacingAndGlyphs" style="stroke-width:0.05px">(n=1270)</text>
<rect x="480.6" y="225.75" width="3.9" height="3.9" fill="#e8b53b"/>
<text x="487.4" y="229.45" font-size="5" textLength="14.2" lengthAdjust="spacingAndGlyphs">IP-CLL</text>
<rect x="480.6" y="235.2" width="3.9" height="3.9" fill="#a2283f"/>
<text x="487.4" y="238.9" font-size="5" textLength="16.4" lengthAdjust="spacingAndGlyphs">HP-CLL</text>
<rect x="480.6" y="244.2" width="3.9" height="3.9" fill="#466087"/>
<text x="487.4" y="247.9" font-size="5" textLength="15.7" lengthAdjust="spacingAndGlyphs">LP-CLL</text>
<rect x="0" y="0" width="520" height="1" fill="#060606"/>
<rect x="0" y="1" width="520" height="1" fill="#dcdcdc"/>
<rect x="0" y="0" width="1" height="400" fill="#4a4a4a"/>
<rect x="1" y="1" width="1" height="397" fill="#a2a2a2"/>
<rect x="517" y="1" width="1" height="397" fill="#e2e2e2"/>
<rect x="518" y="1" width="1" height="398" fill="#8a8a8a"/>
<rect x="519" y="1" width="1" height="399" fill="#4b4b4b"/>
<rect x="1" y="397" width="517" height="1" fill="#e2e2e2"/>
<rect x="1" y="398" width="518" height="1" fill="#8a8a8a"/>
<rect x="0" y="399" width="519" height="1" fill="#4b4b4b"/>
</g>
</svg>
</body></html>
